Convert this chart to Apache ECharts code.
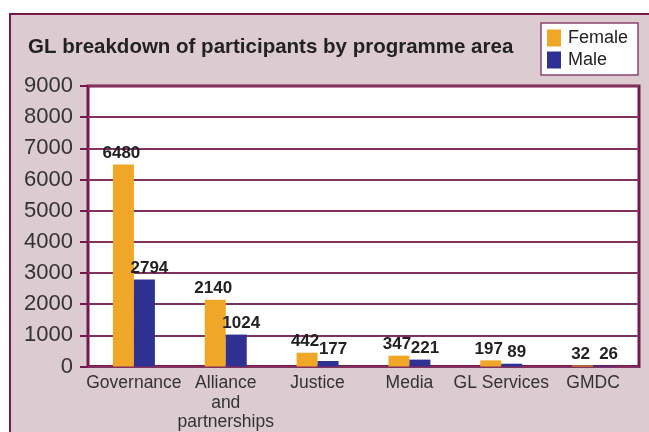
<!DOCTYPE html>
<html><head><meta charset="utf-8">
<script src="https://cdn.jsdelivr.net/npm/echarts@6/dist/echarts.min.js"></script>
<style>html,body{margin:0;padding:0;background:#fff;}#c{width:649px;height:432px;}</style>
</head><body><div id="c"></div>
<script>
const titleText = 'GL breakdown of participants by programme area';
const categories = ['Governance', 'Alliance\nand\npartnerships', 'Justice', 'Media', 'GL Services', 'GMDC'];
const female = [6480, 2140, 442, 347, 197, 32];
const male = [2794, 1024, 177, 221, 89, 26];
const yTicks = [0, 1000, 2000, 3000, 4000, 5000, 6000, 7000, 8000, 9000];

const maroon = '#76194a';
const chart = echarts.init(document.getElementById('c'), null, {renderer: 'canvas'});
const labelBase = {show: true, position: 'top', fontFamily: 'Liberation Sans', fontWeight: 'bold', fontSize: 17, color: '#222', distance: 3};
chart.setOption({
  animation: false,
  graphic: [{
    type: 'rect', z: -10, left: 9, top: 13,
    shape: {width: 700, height: 500},
    style: {fill: '#dccbd0', stroke: maroon, lineWidth: 2}
  }],
  title: {
    text: titleText, left: 28, top: 37, padding: 0,
    textStyle: {fontFamily: 'Liberation Sans', fontWeight: 'bold', fontSize: 20.5, color: '#222'}
  },
  legend: {
    orient: 'vertical', left: 541, top: 23,
    padding: [6, 10, 6, 6],
    itemWidth: 14, itemHeight: 17, itemGap: 4,
    backgroundColor: '#fff', borderColor: '#8a4470', borderWidth: 1.5,
    icon: 'rect',
    textStyle: {fontFamily: 'Liberation Sans', fontSize: 18, color: '#222', padding: [0, 0, 0, 2]},
    data: ['Female', 'Male']
  },
  grid: {
    left: 88, right: 10, top: 86, bottom: 63,
    show: true, backgroundColor: '#fff', borderColor: maroon, borderWidth: 3
  },
  xAxis: {
    type: 'category', data: categories,
    axisLine: {show: false}, axisTick: {show: false},
    axisLabel: {fontFamily: 'Liberation Sans', fontSize: 17.5, color: '#333', margin: 7, lineHeight: 19.5, interval: 0}
  },
  yAxis: {
    type: 'value', min: 0, max: 9000, interval: 1000,
    axisLine: {show: false},
    axisTick: {show: true, length: 8, lineStyle: {color: maroon, width: 2}},
    splitLine: {lineStyle: {color: '#82325e', width: 2}},
    axisLabel: {fontFamily: 'Liberation Sans', fontSize: 22, color: '#333', margin: 15,
      formatter: v => yTicks.includes(v) ? String(v) : ''}
  },
  series: [
    {name: 'Female', type: 'bar', data: female, barWidth: 21, barGap: '0%',
     itemStyle: {color: '#f0a626'}, label: Object.assign({}, labelBase, {offset: [-2, 0]})},
    {name: 'Male', type: 'bar', data: male, barWidth: 21, barGap: '0%',
     itemStyle: {color: '#2e3192'}, label: Object.assign({}, labelBase, {offset: [5, 0]})}
  ]
});
</script></body></html>
